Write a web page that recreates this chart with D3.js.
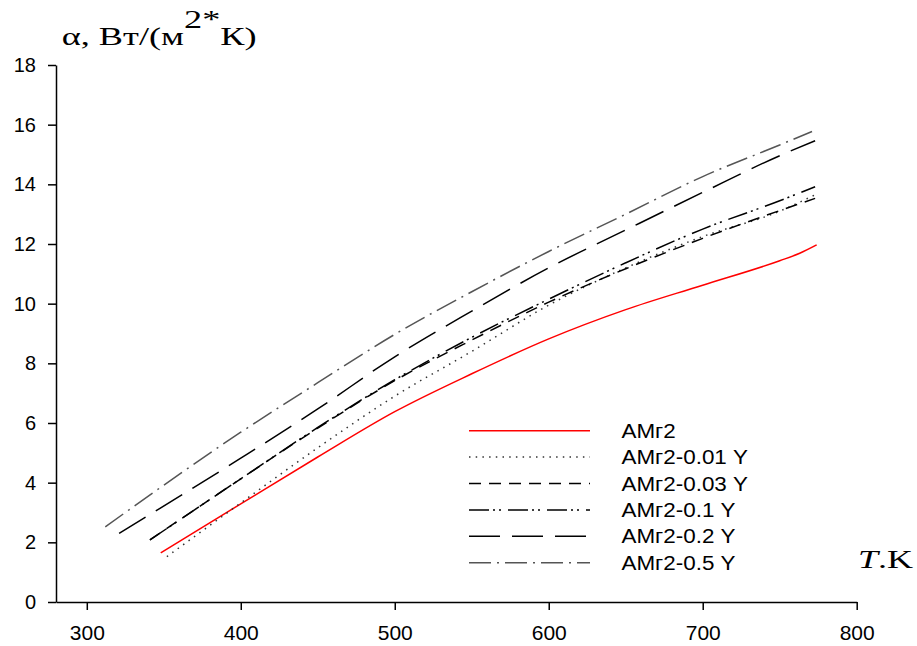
<!DOCTYPE html>
<html>
<head>
<meta charset="utf-8">
<script src="https://cdn.jsdelivr.net/npm/d3@7"></script>
<style>
  body { margin: 0; background: #fff; }
  svg { display: block; }
</style>
</head>
<body>
<svg class="chart" width="917" height="646"></svg>
<script>
// values: [T, alpha]
var amg2    = [[348,1.65],[400,3.29],[450,4.86],[500,6.38],[550,7.65],[600,8.82],[650,9.8],[700,10.62],[750,11.44],[763,11.69],[774,11.97]];
var amg2_01 = [[352,1.52],[400,3.32],[450,5.17],[500,6.9],[550,8.4],[600,9.95],[650,11.2],[700,12.25],[750,13.1],[773,13.65]];
var amg2_03 = [[341,2.08],[400,4.13],[450,5.83],[500,7.42],[550,8.78],[600,10.05],[650,11.17],[700,12.19],[750,13.12],[773,13.53]];
var amg2_1  = [[341,2.08],[400,4.13],[450,5.85],[500,7.45],[550,8.87],[600,10.15],[650,11.37],[700,12.5],[750,13.45],[773,13.92]];
var amg2_2  = [[321,2.3],[400,4.82],[450,6.47],[500,8.22],[550,9.75],[600,11.2],[650,12.47],[700,13.73],[750,14.96],[773,15.46]];
var amg2_5  = [[312,2.52],[400,5.69],[450,7.35],[500,8.97],[550,10.4],[600,11.75],[650,13.0],[700,14.26],[750,15.32],[771,15.77]];

var seriesNames = ["АМг2", "АМг2-0.01 Y", "АМг2-0.03 Y", "АМг2-0.1 Y", "АМг2-0.2 Y", "АМг2-0.5 Y"];
var xTicks = [300, 400, 500, 600, 700, 800];
var yTicks = [0, 2, 4, 6, 8, 10, 12, 14, 16, 18];

// line looks, same order as the names
var styles = [
  {color: "#ff0000", dash: null},
  {color: "#333",    dash: "1.5,5.2"},
  {color: "#000",    dash: "12,8"},
  {color: "#000",    dash: "20,4,2,4,2,7"},
  {color: "#000",    dash: "31,12"},
  {color: "#555",    dash: "22,6,2,6"}
];

var svg = d3.select("svg.chart");

var x = d3.scaleLinear().domain([280, 800]).range([56, 856.7]);
var y = d3.scaleLinear().domain([0, 18]).range([602, 65]);

// axes
var yAxis = svg.append("g")
  .attr("transform", "translate(56,0)")
  .call(d3.axisLeft(y).tickValues(yTicks).tickSize(8).tickSizeOuter(0).tickPadding(12));

var xAxis = svg.append("g")
  .attr("transform", "translate(0,602)")
  .call(d3.axisBottom(x).tickValues(xTicks).tickSize(8).tickSizeOuter(0).tickPadding(15));

[xAxis, yAxis].forEach(function(g) {
  g.selectAll("path, line").attr("stroke", "#000").attr("stroke-width", 1.5);
  g.selectAll("text")
    .attr("fill", "#000")
    .style("font-family", "'Liberation Sans', Arial, sans-serif")
    .style("font-size", "20px");
});
xAxis.selectAll("text").style("font-size", "21px");

// curves
var line = d3.line()
  .x(function(d) { return x(d[0]); })
  .y(function(d) { return y(d[1]); })
  .curve(d3.curveMonotoneX);

var allSeries = [amg2, amg2_01, amg2_03, amg2_1, amg2_2, amg2_5];

svg.append("g").selectAll("path")
  .data(allSeries)
  .enter().append("path")
  .attr("d", line)
  .attr("fill", "none")
  .attr("stroke", function(d, i) { return styles[i].color; })
  .attr("stroke-width", 1.5)
  .attr("stroke-dasharray", function(d, i) { return styles[i].dash; });

// legend
var legend = svg.append("g").attr("class", "legend");
var item = legend.selectAll("g")
  .data(seriesNames)
  .enter().append("g")
  .attr("transform", function(d, i) { return "translate(0," + (430.7 + i * 26.4) + ")"; });

item.append("line")
  .attr("x1", 469).attr("x2", 590)
  .attr("stroke", function(d, i) { return styles[i].color; })
  .attr("stroke-width", 1.5)
  .attr("stroke-dasharray", function(d, i) { return styles[i].dash; });

// text is a bit wider than plain Arial in the original
item.append("text")
  .attr("transform", "translate(621.5,7) scale(1.15,1)")
  .style("font-family", "'Liberation Sans', Arial, sans-serif")
  .style("font-size", "19.5px")
  .text(function(d) { return d; });

// y title, stretched sideways like the original
var title = svg.append("text")
  .style("font-family", "'Liberation Serif', 'Times New Roman', serif")
  .style("font-size", "26px");
title.append("tspan").text("α, Вт/(м");
title.append("tspan").attr("dy", -17).text("2*");
title.append("tspan").attr("dy", 17).text("К)");
var tw = title.node().getComputedTextLength();
title.attr("transform", "translate(61.7,45) scale(" + (195 / tw) + ",1)");

// x title
var xt = svg.append("text")
  .style("font-family", "'Liberation Serif', 'Times New Roman', serif")
  .style("font-size", "25px");
xt.append("tspan").style("font-style", "italic").text("T");
xt.append("tspan").text(".K");
var xw = xt.node().getComputedTextLength();
xt.attr("transform", "translate(858,568) scale(" + (55 / xw) + ",1)");
</script>
</body>
</html>
